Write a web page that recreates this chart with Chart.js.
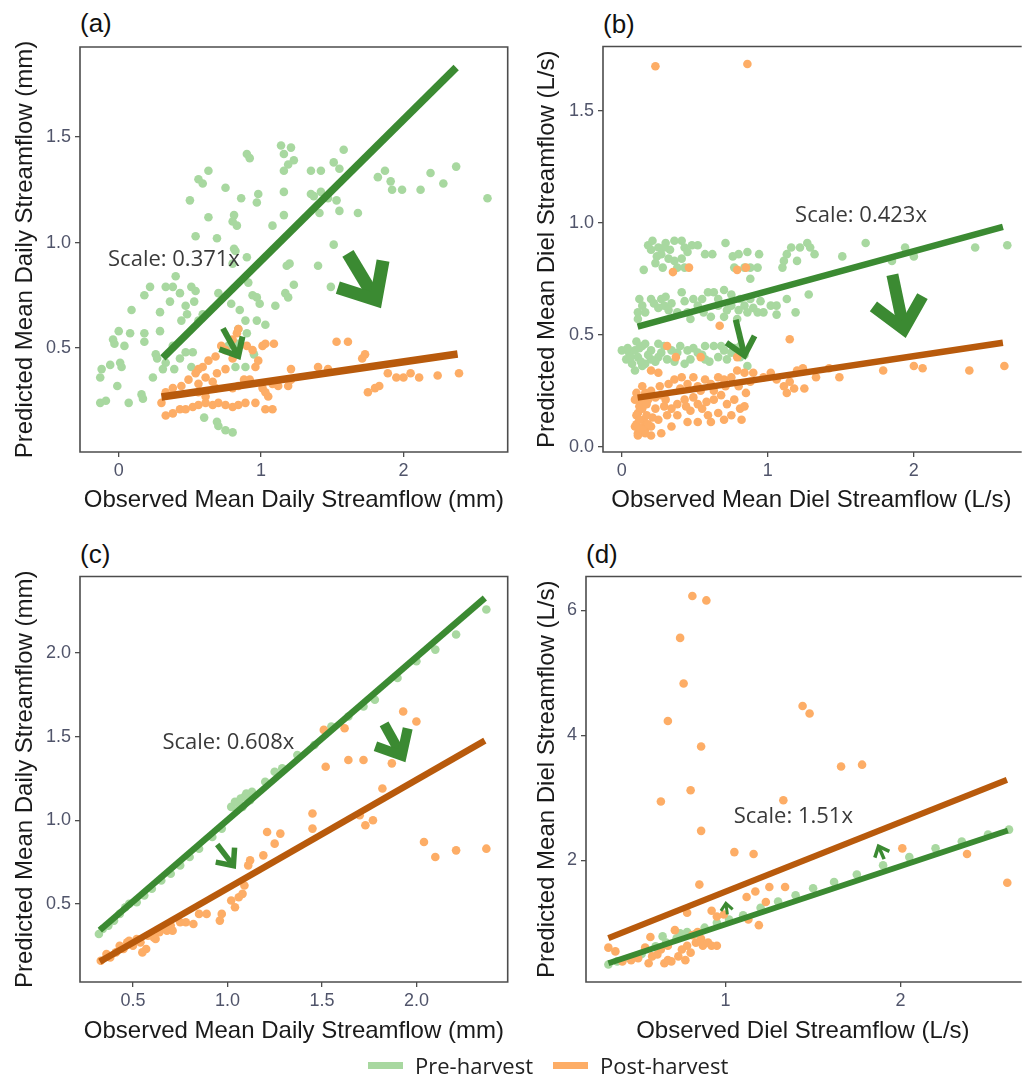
<!DOCTYPE html>
<html>
<head>
<meta charset="utf-8">
<title>Predicted vs observed streamflow</title>
<script src="https://cdn.jsdelivr.net/npm/chart.js@4.4.0/dist/chart.umd.min.js"></script>
<style>
  body { margin: 0; background: #fff; }
  #page { position: relative; width: 1024px; height: 1078px; overflow: hidden; background: #fff; }
  #page canvas { position: absolute; }
  .tag { position: absolute; font: 26px "Liberation Sans", Arial, sans-serif; color: #111; line-height: 26px; }
  .key { position: absolute; top: 1050px; display: flex; align-items: center; font: 22px "Open Sans", sans-serif; color: #222; z-index: 2; }
  .key .sw { display: inline-block; width: 35px; height: 7px; margin-right: 12px; }
</style>
</head>
<body>
<div id="page">
  <div class="tag" style="left:80px; top:10px">(a)</div>
  <div class="tag" style="left:603px; top:11px">(b)</div>
  <div class="tag" style="left:80px; top:541px">(c)</div>
  <div class="tag" style="left:586px; top:541px">(d)</div>
  <div class="key" style="left:368px"><span class="sw" style="background:#a8d8a0"></span>Pre-harvest</div>
  <div class="key" style="left:553px"><span class="sw" style="background:#fdad66"></span>Post-harvest</div>
</div>
<script>
// ---- (a) mean daily streamflow, pre-harvest model ----
const preA = [[1.14,1.46],[1.16,1.42],[1.21,1.45],[1.23,1.39],[1.19,1.37],[1.16,1.34],[0.90,1.42],[0.92,1.40],[1.58,1.44],[1.51,1.38],[1.55,1.35],[1.35,1.34],[1.42,1.34],[0.63,1.34],[0.56,1.30],[0.59,1.28],[0.75,1.26],[0.50,1.20],[0.86,1.21],[0.98,1.23],[0.97,1.19],[1.16,1.24],[1.37,1.22],[1.42,1.24],[1.47,1.21],[1.53,1.20],[1.55,1.15],[1.68,1.14],[1.41,1.14],[1.35,1.23],[1.82,1.31],[1.87,1.34],[1.91,1.29],[1.92,1.25],[1.99,1.25],[2.12,1.25],[2.19,1.33],[2.28,1.28],[2.37,1.36],[2.59,1.21],[0.63,1.12],[0.81,1.13],[0.80,1.10],[0.83,1.08],[0.69,1.02],[0.54,1.03],[1.08,1.08],[1.16,1.13],[1.51,0.99],[1.40,0.89],[1.18,0.89],[1.20,0.90],[1.49,0.79],[1.23,0.80],[1.17,0.76],[1.19,0.74],[1.10,0.70],[0.81,0.97],[0.82,0.96],[0.90,0.93],[0.80,0.90],[0.91,0.81],[0.94,0.75],[0.97,0.74],[0.99,0.71],[0.85,0.68],[0.79,0.71],[0.70,0.76],[0.54,0.77],[0.47,0.70],[0.53,0.72],[0.40,0.84],[0.33,0.79],[0.38,0.79],[0.43,0.76],[0.51,0.79],[0.22,0.79],[0.18,0.75],[0.09,0.68],[0.29,0.67],[0.36,0.72],[0.59,0.66],[0.48,0.66],[0.44,0.63],[0.56,0.63],[0.89,0.63],[0.97,0.63],[1.03,0.61],[0.84,0.59],[0.90,0.57],[0.29,0.58],[0.18,0.57],[0.08,0.57],[0.00,0.58],[-0.04,0.54],[-0.03,0.52],[0.04,0.51],[0.18,0.53],[0.26,0.47],[0.27,0.45],[0.38,0.51],[0.47,0.48],[0.52,0.48],[0.43,0.45],[0.33,0.43],[0.39,0.40],[0.01,0.43],[0.02,0.41],[-0.06,0.42],[-0.12,0.40],[-0.13,0.36],[-0.01,0.32],[0.07,0.24],[0.16,0.28],[0.17,0.26],[-0.13,0.24],[-0.09,0.25],[0.24,0.36],[0.31,0.40],[0.51,0.41],[0.60,0.17],[0.69,0.15],[0.70,0.13],[0.75,0.11],[0.80,0.10],[0.82,0.41],[0.89,0.41],[0.95,0.47],[0.84,0.52],[0.77,0.51]];
const postA = [[0.84,0.59],[0.83,0.57],[0.80,0.54],[0.72,0.51],[0.75,0.49],[0.68,0.46],[0.63,0.44],[0.59,0.41],[0.56,0.40],[0.54,0.38],[0.61,0.36],[0.66,0.34],[0.69,0.38],[0.75,0.40],[0.80,0.45],[0.90,0.51],[0.94,0.49],[1.01,0.51],[1.03,0.52],[1.09,0.52],[0.96,0.41],[0.98,0.44],[0.56,0.33],[0.49,0.35],[0.44,0.32],[0.38,0.31],[0.33,0.29],[0.30,0.24],[0.33,0.18],[0.38,0.19],[0.43,0.21],[0.47,0.21],[0.52,0.22],[0.56,0.23],[0.61,0.24],[0.66,0.23],[0.70,0.24],[0.75,0.23],[0.80,0.22],[0.84,0.23],[0.89,0.24],[0.96,0.24],[1.03,0.21],[1.08,0.21],[1.05,0.27],[1.03,0.29],[1.01,0.31],[1.08,0.33],[1.12,0.32],[0.56,0.29],[0.61,0.27],[0.68,0.31],[0.80,0.31],[0.84,0.32],[0.88,0.35],[0.92,0.35],[1.21,0.40],[1.53,0.53],[1.61,0.53],[1.73,0.47],[1.71,0.45],[1.75,0.29],[1.80,0.31],[1.83,0.32],[1.89,0.38],[1.95,0.36],[2.00,0.36],[2.05,0.38],[2.11,0.36],[2.24,0.37],[2.39,0.38],[1.19,0.32],[1.21,0.35],[1.40,0.41],[1.47,0.40]];
const preFitA = [[0.31,0.453],[2.37,1.83]];
const postFitA = [[0.30,0.268],[2.38,0.472]];

// ---- (b) mean diel streamflow ----
const preB = [[0.18,0.90],[0.21,0.92],[0.25,0.89],[0.29,0.89],[0.36,0.92],[0.41,0.92],[0.43,0.89],[0.48,0.90],[0.52,0.90],[0.24,0.85],[0.32,0.84],[0.36,0.83],[0.41,0.84],[0.28,0.80],[0.38,0.80],[0.43,0.80],[0.23,0.82],[0.15,0.79],[0.57,0.86],[0.62,0.86],[0.71,0.91],[0.76,0.85],[0.80,0.86],[0.86,0.87],[0.94,0.86],[0.93,0.80],[0.88,0.80],[0.84,0.80],[0.77,0.80],[0.88,0.75],[1.13,0.86],[1.11,0.83],[1.16,0.89],[1.22,0.89],[1.27,0.91],[1.29,0.89],[1.32,0.86],[1.20,0.83],[1.10,0.80],[1.51,0.85],[1.67,0.91],[1.94,0.89],[2.00,0.85],[2.42,0.89],[2.64,0.90],[1.85,0.83],[0.12,0.66],[0.20,0.66],[0.27,0.66],[0.29,0.63],[0.34,0.64],[0.41,0.69],[0.49,0.66],[0.59,0.69],[0.63,0.69],[0.70,0.70],[0.75,0.68],[0.81,0.66],[0.88,0.66],[0.95,0.65],[1.02,0.63],[1.06,0.63],[1.13,0.66],[1.28,0.68],[0.11,0.60],[0.16,0.60],[0.25,0.62],[0.32,0.61],[0.38,0.60],[0.45,0.60],[0.52,0.63],[0.66,0.63],[0.75,0.63],[0.84,0.63],[0.93,0.60],[0.97,0.60],[1.06,0.59],[1.19,0.60],[0.47,0.57],[0.61,0.58],[0.70,0.58],[0.79,0.57],[0.86,0.60],[0.11,0.57],[0.00,0.43],[0.05,0.42],[0.09,0.43],[0.14,0.45],[0.16,0.46],[0.20,0.43],[0.25,0.46],[0.29,0.45],[0.03,0.39],[0.07,0.37],[0.11,0.40],[0.16,0.37],[0.20,0.39],[0.25,0.40],[0.09,0.34],[0.14,0.36],[0.34,0.43],[0.38,0.42],[0.45,0.43],[0.49,0.44],[0.52,0.42],[0.57,0.45],[0.63,0.45],[0.70,0.43],[0.75,0.42],[0.81,0.40],[0.84,0.41],[0.86,0.36],[0.47,0.39],[0.57,0.39],[0.66,0.40],[0.72,0.39],[0.43,0.37],[0.36,0.38],[0.81,0.45],[0.06,0.40],[0.12,0.44],[0.18,0.41],[0.23,0.38],[0.27,0.42],[0.31,0.39],[0.40,0.45],[0.55,0.41],[0.60,0.38],[0.68,0.45],[0.77,0.44],[0.10,0.47],[0.13,0.38],[0.04,0.44],[0.14,0.63],[0.22,0.64],[0.30,0.67],[0.43,0.65],[0.55,0.66],[0.66,0.66],[0.72,0.61],[0.80,0.61],[0.90,0.62],[0.56,0.60],[0.20,0.88],[0.27,0.86],[0.33,0.88],[0.45,0.87],[0.30,0.91]];
const postB = [[0.23,1.70],[0.86,1.71],[0.35,0.78],[0.46,0.80],[0.79,0.79],[0.85,0.80],[0.67,0.54],[1.15,0.48],[0.31,0.45],[0.37,0.40],[0.54,0.40],[0.79,0.40],[0.09,0.21],[0.12,0.18],[0.16,0.24],[0.20,0.25],[0.18,0.21],[0.11,0.15],[0.15,0.12],[0.09,0.09],[0.11,0.06],[0.16,0.08],[0.20,0.09],[0.25,0.12],[0.23,0.17],[0.27,0.23],[0.32,0.28],[0.36,0.30],[0.41,0.31],[0.45,0.28],[0.49,0.31],[0.52,0.27],[0.57,0.30],[0.61,0.28],[0.66,0.31],[0.70,0.30],[0.75,0.31],[0.79,0.34],[0.84,0.33],[0.90,0.33],[0.97,0.31],[1.02,0.33],[1.06,0.30],[1.11,0.27],[1.15,0.29],[1.20,0.34],[1.24,0.35],[1.33,0.31],[1.42,0.35],[1.49,0.31],[1.13,0.24],[1.18,0.26],[1.25,0.26],[0.29,0.18],[0.34,0.17],[0.38,0.19],[0.43,0.21],[0.47,0.16],[0.52,0.19],[0.55,0.17],[0.59,0.14],[0.63,0.21],[0.68,0.23],[0.72,0.19],[0.77,0.21],[0.81,0.17],[0.84,0.18],[0.66,0.15],[0.61,0.11],[0.52,0.11],[0.45,0.11],[0.34,0.09],[0.27,0.06],[0.20,0.05],[0.16,0.06],[0.11,0.05],[0.82,0.12],[0.70,0.12],[0.75,0.14],[0.38,0.14],[0.25,0.33],[0.20,0.34],[1.79,0.34],[2.00,0.36],[2.06,0.35],[2.38,0.34],[2.62,0.36],[0.10,0.14],[0.14,0.17],[0.17,0.14],[0.10,0.10],[0.15,0.09],[0.18,0.10],[0.13,0.20],[0.10,0.24],[0.14,0.27],[0.12,0.12],[0.13,0.08],[0.17,0.19],[0.21,0.13],[0.23,0.22],[0.26,0.27],[0.30,0.21],[0.31,0.14],[0.40,0.26],[0.44,0.18],[0.49,0.22],[0.54,0.25],[0.58,0.20],[0.63,0.25],[0.71,0.27],[0.80,0.27],[0.85,0.24],[0.88,0.29]];
const preFitB = [[0.108,0.536],[2.61,0.982]];
const postFitB = [[0.108,0.219],[2.61,0.464]];

// ---- (c) mean daily streamflow, post-harvest model ----
const preC = [[0.32,0.32],[0.34,0.35],[0.37,0.37],[0.40,0.40],[0.43,0.44],[0.46,0.48],[0.48,0.50],[0.52,0.51],[0.56,0.55],[0.60,0.59],[0.65,0.64],[0.70,0.68],[0.75,0.73],[0.80,0.78],[0.85,0.83],[0.92,0.90],[0.97,0.95],[1.02,1.08],[1.04,1.11],[1.06,1.10],[1.07,1.13],[1.09,1.14],[1.10,1.16],[1.11,1.15],[1.13,1.17],[1.08,1.08],[1.05,1.06],[1.12,1.12],[1.20,1.23],[1.25,1.29],[1.29,1.31],[1.37,1.39],[1.46,1.45],[1.55,1.56],[1.64,1.62],[1.72,1.68],[1.78,1.72],[1.90,1.85],[2.00,1.95],[2.10,2.02],[2.21,2.11],[2.37,2.26]];
const postC = [[0.33,0.16],[0.38,0.18],[0.41,0.21],[0.45,0.23],[0.47,0.27],[0.50,0.25],[0.54,0.27],[0.57,0.23],[0.55,0.21],[0.61,0.30],[0.64,0.33],[0.68,0.34],[0.71,0.34],[0.75,0.39],[0.78,0.39],[0.82,0.38],[0.85,0.44],[0.89,0.44],[0.96,0.40],[0.97,0.44],[1.02,0.52],[1.06,0.54],[1.04,0.48],[1.08,0.56],[1.09,0.61],[1.11,0.73],[1.12,0.76],[1.19,0.79],[1.21,0.93],[1.25,0.86],[1.28,0.92],[1.45,1.04],[1.45,0.95],[1.51,1.54],[1.52,1.32],[1.62,1.55],[1.64,1.36],[1.72,1.36],[1.70,1.03],[1.73,0.97],[1.77,1.00],[1.82,1.19],[1.87,1.34],[1.93,1.65],[2.00,1.59],[2.04,0.87],[2.10,0.78],[2.21,0.82],[2.37,0.83],[0.36,0.20],[0.43,0.25],[0.48,0.28],[0.52,0.29],[0.58,0.31],[0.62,0.29],[0.66,0.36],[0.70,0.37]];
const preFitC = [[0.325,0.343],[2.362,2.328]];
const postFitC = [[0.325,0.155],[2.362,1.476]];

// ---- (d) diel streamflow ----
const preD = [[0.33,0.33],[0.38,0.38],[0.45,0.43],[0.52,0.50],[0.60,0.62],[0.66,0.68],[0.72,0.75],[0.78,0.85],[0.83,0.82],[0.88,0.92],[0.95,1.00],[1.02,1.05],[1.10,1.12],[1.20,1.24],[1.30,1.34],[1.40,1.44],[1.50,1.55],[1.62,1.65],[1.75,1.77],[1.90,1.92],[2.05,2.05],[2.20,2.19],[2.35,2.30],[2.50,2.41],[2.62,2.49],[0.64,0.78],[0.74,0.83]];
const postD = [[0.81,6.23],[0.89,6.16],[0.74,5.56],[0.76,4.83],[0.67,4.23],[0.86,3.82],[0.63,2.94],[0.80,3.12],[0.86,2.47],[1.44,4.47],[1.48,4.35],[1.66,3.50],[1.78,3.53],[1.33,2.96],[1.05,2.13],[1.16,2.10],[2.01,2.19],[2.38,2.10],[2.61,1.64],[0.85,1.61],[1.25,1.57],[1.34,1.57],[1.12,1.41],[1.17,1.50],[1.23,1.33],[1.19,0.96],[1.13,1.05],[0.92,1.19],[0.95,1.10],[0.99,1.13],[0.33,0.60],[0.37,0.54],[0.57,0.77],[0.71,0.88],[0.78,1.16],[0.41,0.38],[0.46,0.40],[0.50,0.43],[0.56,0.35],[0.58,0.46],[0.61,0.49],[0.65,0.35],[0.69,0.38],[0.73,0.46],[0.75,0.57],[0.78,0.63],[0.80,0.52],[0.83,0.68],[0.86,0.74],[0.87,0.63],[0.90,0.68],[0.92,0.63],[0.95,0.63],[0.63,0.57],[0.67,0.63],[0.54,0.60],[0.77,0.40],[0.81,0.80],[0.84,0.85],[0.67,0.40]];
const preFitD = [[0.330,0.350],[2.613,2.476]];
const postFitD = [[0.330,0.752],[2.608,3.287]];

// tick values and axis text
const xTicksA = [0, 1, 2], yTicksA = [0.5, 1.0, 1.5];
const xTicksB = [0, 1, 2], yTicksB = [0.0, 0.5, 1.0, 1.5];
const xTicksC = [0.5, 1.0, 1.5, 2.0], yTicksC = [0.5, 1.0, 1.5, 2.0];
const xTicksD = [1, 2], yTicksD = [2, 4, 6];
const xTitles = ['Observed Mean Daily Streamflow (mm)', 'Observed Mean Diel Streamflow (L/s)', 'Observed Mean Daily Streamflow (mm)', 'Observed Diel Streamflow (L/s)'];
const yTitles = ['Predicted Mean Daily Streamflow (mm)', 'Predicted Mean Diel Streamflow (L/s)', 'Predicted Mean Daily Streamflow (mm)', 'Predicted Mean Diel Streamflow (L/s)'];
const scaleLabels = ['Scale: 0.371x', 'Scale: 0.423x', 'Scale: 0.608x', 'Scale: 1.51x'];

const DARK_GREEN = '#3b8a32';
const DARK_ORANGE = '#b85a0c';
const LIGHT_GREEN = '#a8d8a0';
const LIGHT_ORANGE = '#fdad66';
const AXIS_FONT = '"Liberation Sans", Arial, sans-serif';
const NOTE_FONT = '"Open Sans", sans-serif';

// layout of each panel (canvas box, plot box, ranges, decorations)
const panels = [
  { left: 0, top: 0, w: 512, h: 520, padTop: 47, padRight: 1, yAxisW: 80, xAxisH: 68,
    xMin: -0.272, xMax: 2.732, yMin: 0.007, yMax: 1.927, yTitlePad: 10.6, xTitlePad: 5.6, closed: true,
    pre: preA, post: postA, preFit: preFitA, postFit: postFitA, xTicks: xTicksA, yTicks: yTicksA, xDec: 0, yDec: 1,
    lineW: 7.5, note: [0.388, 0.920],
    arrows: [{ from: [1.61, 0.949], to: [1.842, 0.688], width: 13, head: 40 },
             { from: [0.732, 0.593], to: [0.855, 0.443], width: 6, head: 20 }] },
  { left: 512, top: 0, w: 512, h: 520, padTop: 46.5, padRight: 0, yAxisW: 91, xAxisH: 68,
    xMin: -0.129, xMax: 2.725, yMin: -0.024, yMax: 1.788, yTitlePad: 20.6, xTitlePad: 5.6, closed: false,
    pre: preB, post: postB, preFit: preFitB, postFit: postFitB, xTicks: xTicksB, yTicks: yTicksB, xDec: 0, yDec: 1,
    lineW: 6.5, note: [1.638, 1.031],
    arrows: [{ from: [1.853, 0.768], to: [1.944, 0.485], width: 12, head: 38 },
             { from: [0.780, 0.567], to: [0.847, 0.388], width: 6, head: 22 }] },
  { left: 0, top: 520, w: 512, h: 558, padTop: 56.5, padRight: 1, yAxisW: 80, xAxisH: 96,
    xMin: 0.220, xMax: 2.483, yMin: 0.033, yMax: 2.457, yTitlePad: 10.6, xTitlePad: 32.6, closed: true,
    pre: preC, post: postC, preFit: preFitC, postFit: postFitC, xTicks: xTicksC, yTicks: yTicksC, xDec: 1, yDec: 1,
    lineW: 6.5, note: [1.005, 1.463],
    arrows: [{ from: [1.829, 1.576], to: [1.942, 1.346], width: 10, head: 28 },
             { from: [0.946, 0.855], to: [1.045, 0.709], width: 5.5, head: 18 }] },
  { left: 512, top: 520, w: 512, h: 558, padTop: 56.5, padRight: 0, yAxisW: 74, xAxisH: 96,
    xMin: 0.202, xMax: 2.681, yMin: 0.050, yMax: 6.543, yTitlePad: 20.6, xTitlePad: 32.6, closed: false,
    pre: preD, post: postD, preFit: preFitD, postFit: postFitD, xTicks: xTicksD, yTicks: yTicksD, xDec: 0, yDec: 0,
    lineW: 6, note: [1.387, 2.70],
    arrows: [{ from: [1.01, 1.133], to: [1.0, 1.345], width: 3, head: 9 },
             { from: [1.906, 2.017], to: [1.868, 2.263], width: 3.5, head: 12 }] }
];

const toPts = arr => arr.map(([x, y]) => ({ x, y }));

// open chevron arrows, "Scale" note and the panel frame, drawn over the data
const overlay = {
  id: 'overlay',
  afterDatasetsDraw(chart, args, opts) {
    const p = opts.panel;
    const { ctx, chartArea: a, scales: { x, y } } = chart;
    const spread = 0.72;
    ctx.save();
    p.arrows.forEach(ar => {
      const x0 = x.getPixelForValue(ar.from[0]), y0 = y.getPixelForValue(ar.from[1]);
      let x1 = x.getPixelForValue(ar.to[0]), y1 = y.getPixelForValue(ar.to[1]);
      const ang = Math.atan2(y1 - y0, x1 - x0);
      const inset = ar.width / (2 * Math.sin(spread));
      x1 -= inset * Math.cos(ang);
      y1 -= inset * Math.sin(ang);
      ctx.strokeStyle = DARK_GREEN;
      ctx.lineWidth = ar.width;
      ctx.lineCap = 'butt';
      ctx.lineJoin = 'miter';
      ctx.miterLimit = 10;
      ctx.beginPath();
      ctx.moveTo(x0, y0);
      ctx.lineTo(x1, y1);
      ctx.stroke();
      ctx.beginPath();
      ctx.moveTo(x1 - ar.head * Math.cos(ang - spread), y1 - ar.head * Math.sin(ang - spread));
      ctx.lineTo(x1, y1);
      ctx.lineTo(x1 - ar.head * Math.cos(ang + spread), y1 - ar.head * Math.sin(ang + spread));
      ctx.stroke();
    });
    ctx.fillStyle = '#3a3a3a';
    ctx.font = '22px ' + NOTE_FONT;
    ctx.textAlign = 'center';
    ctx.textBaseline = 'middle';
    ctx.fillText(opts.label, x.getPixelForValue(p.note[0]), y.getPixelForValue(p.note[1]));

    ctx.strokeStyle = '#4d4d4d';
    ctx.lineWidth = 1.6;
    ctx.beginPath();
    if (p.closed) {
      ctx.rect(a.left, a.top, a.right - a.left, a.bottom - a.top);
    } else {
      ctx.moveTo(a.right + 2, a.top);
      ctx.lineTo(a.left, a.top);
      ctx.lineTo(a.left, a.bottom);
      ctx.lineTo(a.right + 2, a.bottom);
    }
    ctx.stroke();
    ctx.restore();
  }
};

function axisGrid() {
  return { display: true, drawOnChartArea: false, drawTicks: true, tickLength: 5, color: '#4d4d4d', lineWidth: 1.3 };
}

const page = document.getElementById('page');
panels.forEach((p, i) => {
  const canvas = document.createElement('canvas');
  canvas.width = p.w;
  canvas.height = p.h;
  canvas.style.left = p.left + 'px';
  canvas.style.top = p.top + 'px';
  page.appendChild(canvas);

  new Chart(canvas.getContext('2d'), {
    type: 'scatter',
    data: {
      datasets: [
        { type: 'line', label: 'Pre-harvest fit', data: toPts(p.preFit), borderColor: DARK_GREEN, borderWidth: p.lineW, pointRadius: 0, tension: 0, fill: false },
        { type: 'line', label: 'Post-harvest fit', data: toPts(p.postFit), borderColor: DARK_ORANGE, borderWidth: p.lineW, pointRadius: 0, tension: 0, fill: false },
        { label: 'Post-harvest', data: toPts(p.post), pointBackgroundColor: LIGHT_ORANGE, pointBorderWidth: 0, pointRadius: 4.3 },
        { label: 'Pre-harvest', data: toPts(p.pre), pointBackgroundColor: LIGHT_GREEN, pointBorderWidth: 0, pointRadius: 4.3 }
      ]
    },
    options: {
      responsive: false,
      animation: false,
      devicePixelRatio: 1,
      layout: { padding: { left: 0, top: p.padTop, right: p.padRight, bottom: 0 } },
      plugins: {
        legend: { display: false },
        tooltip: { enabled: false },
        overlay: { panel: p, label: scaleLabels[i] }
      },
      scales: {
        x: {
          type: 'linear',
          min: p.xMin,
          max: p.xMax,
          afterBuildTicks: s => { s.ticks = p.xTicks.map(v => ({ value: v })); },
          afterFit: s => { s.height = p.xAxisH; },
          grid: axisGrid(),
          border: { display: false },
          ticks: { font: { family: AXIS_FONT, size: 18 }, color: '#50546a', padding: 3, maxRotation: 0, autoSkip: false,
                   callback: v => v.toFixed(p.xDec) },
          title: { display: true, text: xTitles[i], color: '#1a1a1a', font: { family: AXIS_FONT, size: 24 },
                   padding: { top: 0, bottom: p.xTitlePad } }
        },
        y: {
          type: 'linear',
          min: p.yMin,
          max: p.yMax,
          afterBuildTicks: s => { s.ticks = p.yTicks.map(v => ({ value: v })); },
          afterFit: s => { s.width = p.yAxisW; },
          grid: axisGrid(),
          border: { display: false },
          ticks: { font: { family: AXIS_FONT, size: 18 }, color: '#50546a', padding: 4, autoSkip: false,
                   callback: v => v.toFixed(p.yDec) },
          title: { display: true, text: yTitles[i], color: '#1a1a1a', font: { family: AXIS_FONT, size: 24 },
                   padding: { top: p.yTitlePad, bottom: 0 } }
        }
      }
    },
    plugins: [overlay]
  });
});
</script>
</body>
</html>
